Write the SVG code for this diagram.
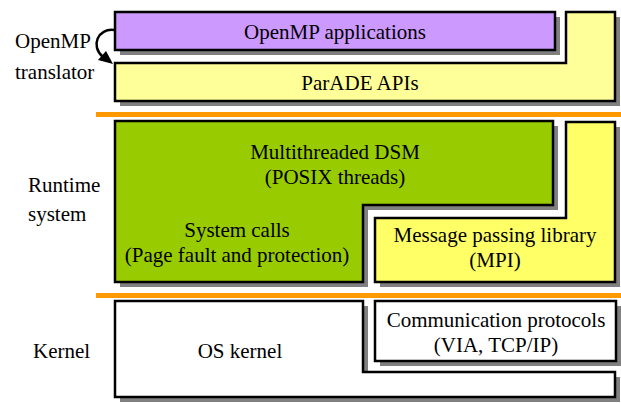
<svg xmlns="http://www.w3.org/2000/svg" width="621" height="403" viewBox="0 0 621 403" font-family="'Liberation Serif', 'Times New Roman', 'DejaVu Serif', serif">
<style>
text{font-family:'Liberation Serif','Times New Roman','DejaVu Serif',serif;font-size:21px;fill:#000}
.c{text-anchor:middle}
.sh{fill:#808080;stroke:none}
.box{stroke:#000;stroke-width:2.5}
.sep{stroke:#ff9900;stroke-width:5}
</style>
<rect width="621" height="403" fill="#fff"/>
<g id="labels">
<text x="15" y="48">OpenMP</text>
<text x="15" y="79">translator</text>
<text x="28" y="192">Runtime</text>
<text x="28" y="221">system</text>
<text x="33" y="358">Kernel</text>
</g>
<g id="separators">
<line class="sep" x1="96" y1="114.5" x2="621" y2="114.5"/>
<line class="sep" x1="96" y1="295.5" x2="621" y2="295.5"/>
</g>
<g id="parade">
<path class="sh" d="M120,68 H571 V17 H620 V106 H120 Z"/>
<path class="box" fill="#ffff99" d="M115,63 H566 V12 H615 V101 H115 Z"/>
<text class="c" x="360" y="90">ParADE APIs</text>
</g>
<g id="openmp">
<rect class="sh" x="120" y="17" width="440" height="38"/>
<rect class="box" fill="#cc99ff" x="115" y="12" width="440" height="38"/>
<text class="c" x="335" y="39">OpenMP applications</text>
</g>
<g id="mpi">
<path class="sh" d="M380,223 H571 V127 H620 V287 H380 Z"/>
<path class="box" fill="#ffff66" d="M375,218 H566 V122 H615 V282 H375 Z"/>
<text class="c" x="495" y="242">Message passing library</text>
<text class="c" x="495" y="267">(MPI)</text>
</g>
<g id="dsm">
<path class="sh" d="M120,126 H558 V210 H368 V287 H120 Z"/>
<path class="box" fill="#99cc00" d="M115,121 H553 V205 H363 V282 H115 Z"/>
<text class="c" x="335" y="159">Multithreaded DSM</text>
<text class="c" x="335" y="184">(POSIX threads)</text>
<text class="c" x="237" y="237">System calls</text>
<text class="c" x="237" y="262">(Page fault and protection)</text>
</g>
<g id="oskernel">
<path class="sh" d="M120,306 H368 V377 H620 V402 H120 Z"/>
<path class="box" fill="#fff" d="M115,301 H363 V372 H615 V397 H115 Z"/>
<text class="c" x="240" y="358">OS kernel</text>
</g>
<g id="comm">
<rect class="sh" x="380" y="306" width="241" height="60"/>
<rect class="box" fill="#fff" x="375" y="301" width="241" height="60"/>
<text class="c" x="496" y="327">Communication protocols</text>
<text class="c" x="496" y="352">(VIA, TCP/IP)</text>
</g>
<g id="connectors">
<path d="M114,30 C98,28 90,46 103,57" fill="none" stroke="#000" stroke-width="2.5"/>
<path d="M113,64 L98,60 L106,51 Z" fill="#000"/>
</g>
</svg>
